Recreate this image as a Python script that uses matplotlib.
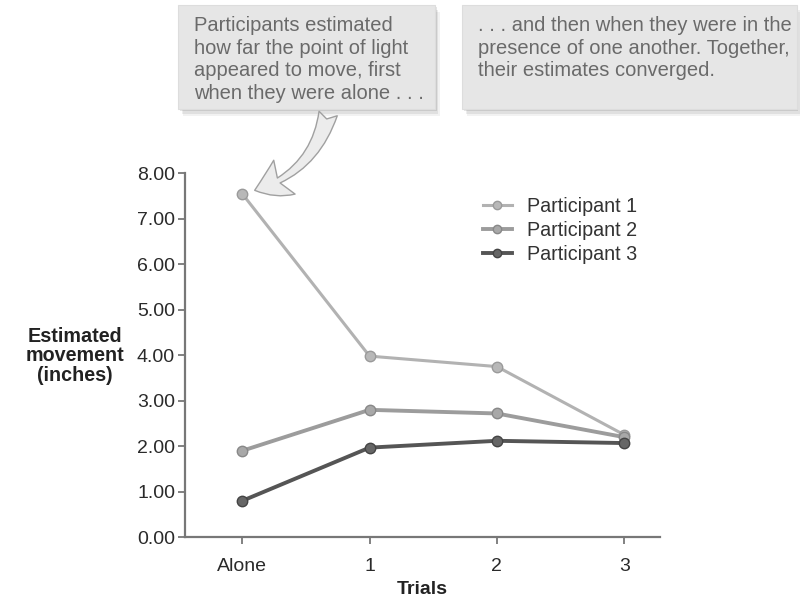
import numpy as np
import matplotlib.pyplot as plt
from matplotlib.patches import FancyBboxPatch, FancyArrowPatch

plt.rcParams['font.family'] = ['Liberation Sans', 'DejaVu Sans']

trials = ['Alone', '1', '2', '3']
p1 = [7.55, 3.98, 3.75, 2.25]
p2 = [1.90, 2.80, 2.72, 2.20]
p3 = [0.80, 1.97, 2.12, 2.07]
names = ['Participant 1', 'Participant 2', 'Participant 3']
yticks = [0, 1, 2, 3, 4, 5, 6, 7, 8]

fig = plt.figure(figsize=(8, 5.99), dpi=100)
ax = fig.add_axes([0.231, 0.103, 0.594, 0.608])

x = np.arange(len(trials))
styles = [
    dict(color='#b2b2b2', lw=2.2, mfc='#b8b8b8', mec='#9a9a9a'),
    dict(color='#9c9c9c', lw=2.8, mfc='#a8a8a8', mec='#888888'),
    dict(color='#555555', lw=2.8, mfc='#666666', mec='#444444'),
]
for vals, name, st in zip([p1, p2, p3], names, styles):
    ax.plot(x, vals, '-o', color=st['color'], lw=st['lw'], ms=7.5,
            mfc=st['mfc'], mec=st['mec'], mew=1.0, label=name, zorder=3)

ax.set_xlim(-0.45, 3.28)
ax.set_ylim(0, 8)
ax.set_xticks(x)
ax.set_xticklabels(trials)
ax.set_yticks(yticks)
ax.set_yticklabels(['%.2f' % v for v in yticks])
for s in ['top', 'right']:
    ax.spines[s].set_visible(False)
for s in ['left', 'bottom']:
    ax.spines[s].set_color('#777777')
    ax.spines[s].set_linewidth(1.6)
ax.tick_params(axis='both', colors='#777777', width=1.3, length=5,
               labelcolor='#2a2a2a', labelsize=14)
ax.tick_params(axis='x', pad=10)
ax.tick_params(axis='y', pad=2)

ax.set_xlabel('Trials', fontsize=14, fontweight='bold', color='#222222',
              labelpad=4)
fig.text(0.094, 0.406, 'Estimated\nmovement\n(inches)', ha='center',
         va='center', fontsize=14.2, fontweight='bold', color='#222222',
         linespacing=1.05)

leg = ax.legend(loc='upper left', bbox_to_anchor=(0.61, 0.957), frameon=False,
                fontsize=14.2, handlelength=1.5, handletextpad=0.75,
                labelspacing=0.25, borderaxespad=0, markerscale=0.8)
for t in leg.get_texts():
    t.set_color('#333333')

# callout boxes with soft drop shadow
def callout(x0, y0, w, h, text):
    for k, a in enumerate([0.05, 0.07, 0.1]):
        d = 0.004 * (3 - k)
        sh = FancyBboxPatch((x0 + d * 0.5, y0 - d), w, h,
                            boxstyle='square,pad=0', transform=fig.transFigure,
                            fc='black', ec='none', alpha=a, zorder=1)
        fig.patches.append(sh)
    box = FancyBboxPatch((x0, y0), w, h, boxstyle='square,pad=0',
                         transform=fig.transFigure, fc='#e6e6e6',
                         ec='#dddddd', lw=0.8, zorder=2)
    fig.patches.append(box)
    fig.text(x0 + 0.019, 0.973, text, ha='left', va='top',
             fontsize=14.5, color='#6a6a6a', linespacing=1.24, zorder=3)

callout(0.223, 0.818, 0.321, 0.174,
        'Participants estimated\nhow far the point of light\n'
        'appeared to move, first\nwhen they were alone . . .')
callout(0.578, 0.818, 0.418, 0.174,
        '. . . and then when they were in the\npresence of one another. Together,\n'
        'their estimates converged.')

arrow = FancyArrowPatch((0.411, 0.815), (0.315, 0.681),
                        transform=fig.transFigure,
                        connectionstyle='arc3,rad=-0.3',
                        arrowstyle='fancy,head_length=1.3,head_width=1.6,tail_width=0.75',
                        mutation_scale=18, fc='#ececec', ec='#a0a0a0',
                        lw=1.0, zorder=4)
fig.patches.append(arrow)

fig.savefig('out.png', dpi=100, facecolor='white')
